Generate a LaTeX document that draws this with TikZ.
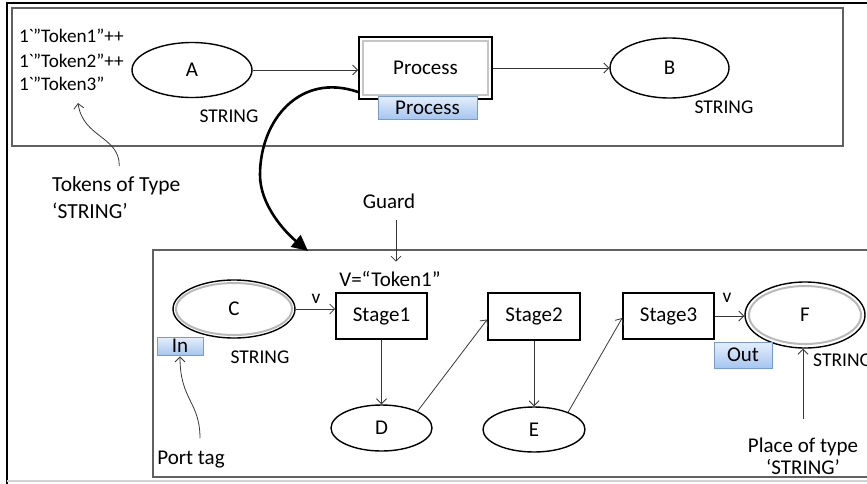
\documentclass[tikz,border=0pt]{standalone}
\usepackage{fontspec}
\setmainfont{Carlito}
\usetikzlibrary{arrows.meta,shapes.geometric}

\definecolor{arcgray}{RGB}{55,55,55}
\definecolor{tagedge}{RGB}{120,156,206}
\definecolor{tagtop}{RGB}{230,239,252}
\definecolor{tagbot}{RGB}{165,198,240}

\tikzset{
  txt/.style={font=\fontsize{21}{25}\selectfont, inner sep=0pt},
  smalltxt/.style={font=\fontsize{19.5}{23}\selectfont, inner sep=0pt},
  tokentxt/.style={font=\fontsize{19.2}{23}\selectfont, inner sep=0pt},
  frame/.style={draw=black!62, line width=1.3pt},
  place/.style={ellipse, draw=black, line width=1.4pt, inner sep=0pt,
                font=\fontsize{21}{25}\selectfont},
  ring/.style={draw=gray!55, line width=2pt},
  trans/.style={rectangle, draw=black, line width=1.6pt, inner sep=0pt,
                font=\fontsize{21}{25}\selectfont},
  tag/.style={rectangle, draw=tagedge, line width=0.8pt, inner sep=0pt,
              top color=tagtop, bottom color=tagbot,
              font=\fontsize{21}{25}\selectfont},
  arc/.style={draw=arcgray, line width=0.8pt,
              -{Straight Barb[length=5pt,width=10pt]}},
  bigarc/.style={draw=black, line width=2.6pt,
                 -{Triangle[length=16pt,width=15pt]}}
}

\begin{document}
\begin{tikzpicture}[x=1pt,y=-1pt]
\useasboundingbox (0,0) rectangle (867,483);

% outer page frame
\draw[line width=2pt] (7,484) -- (7,3) -- (870,3);
\draw[gray!35, line width=1.2pt] (7,481) -- (870,481);

% top level net and the expanded subnet
\draw[frame] (12,8) rectangle (843,146);
\draw[frame] (153,250) rectangle (880,477);

% ---------- top level net ----------
\node[tokentxt, anchor=base west] (t1) at (19,42.5) {1\kern-0.5pt\textasciigrave\kern-1pt”Token1”++};
\node[tokentxt, anchor=base west] (t2) at (19,67) {1\kern-0.5pt\textasciigrave\kern-1pt”Token2”++};
\node[tokentxt, anchor=base west] (t3) at (19,90.5) {1\kern-0.5pt\textasciigrave\kern-1pt”Token3”};

\node[place, minimum width=120pt, minimum height=55pt] (A) at (192,70) {A};
\node[smalltxt, anchor=base] (sA) at (229,122) {STRING};

\node[trans, line width=1.8pt, minimum width=133pt, minimum height=62pt] (P) at (425.5,68) {Process};
\draw[gray!45, line width=1.4pt] ([shift={(5,5)}]P.north west) rectangle ([shift={(-5,-5)}]P.south east);
\node[tag, minimum width=99pt, minimum height=23pt] (Ptag) at (427.5,107.5) {Process};

\node[place, minimum width=119pt, minimum height=60pt] (B) at (669.5,68) {B};
\node[smalltxt, anchor=base] (sB) at (724,113) {STRING};

\draw[arc] (A.east) -- (A.east -| P.west);
\draw[arc] (P.east) -- (P.east -| B.west);

% token annotation
\node[txt, font=\fontsize{21.5}{25}\selectfont, anchor=base west] (tok1) at (52,191) {Tokens of Type};
\node[txt, font=\fontsize{21.5}{25}\selectfont, anchor=base west] (tok2) at (52,218) {‘STRING’};
\coordinate (tokTip) at (78,103);
\draw[arc] ([xshift=3pt,yshift=10pt]tok1.north) .. controls +(0,-30) and +(5,35) .. (tokTip);

% expansion of the substitution transition
\coordinate (subIn) at (308,251);
\draw[bigarc] ([yshift=-24pt]P.west) .. controls (300,72) and (260,120) .. (260,175)
  .. controls (260,205) and (285,232) .. (subIn);

% ---------- subnet ----------
\node[txt, anchor=base] (guard) at (389,208) {Guard};
\node[txt, anchor=base] (vg) at (390,286) {V=“Token1”};
\draw[arc, shorten <=12pt, shorten >=9pt] ([xshift=7pt]guard.south) -- ([xshift=7pt]guard.south |- vg.north);

\node[place, minimum width=122pt, minimum height=58pt] (C) at (234,309) {C};
\draw[ring] (C.center) ellipse [x radius=58, y radius=26];
\node[smalltxt, anchor=base] (sC) at (260,363) {STRING};
\node[tag, minimum width=46pt, minimum height=18pt] (Intag) at (180,346) {In};

\node[trans, minimum width=91pt, minimum height=46pt] (S1) at (381.5,316) {Stage1};
\node[smalltxt, anchor=base] (v1) at (316,303.5) {v};
\draw[arc] (C.east) -- (C.east -| S1.west);

\node[place, minimum width=101pt, minimum height=46pt] (D) at (381.5,428) {D};
\draw[arc] (S1.south) -- (D.north);

\node[trans, minimum width=92pt, minimum height=47pt] (S2) at (534,316.5) {Stage2};
\draw[arc] (D.25) -- ([yshift=-3pt]S2.west);

\node[place, minimum width=102pt, minimum height=45pt] (E) at (534,429.5) {E};
\draw[arc] (S2.south) -- (E.north);

\node[trans, minimum width=91pt, minimum height=46pt] (S3) at (668.5,316) {Stage3};
\draw[arc] (E.27) -- ([yshift=-2pt]S3.west);

\node[place, minimum width=120pt, minimum height=66pt] (F) at (805,315) {F};
\draw[ring] (F.center) ellipse [x radius=56, y radius=29];
\node[smalltxt, anchor=base] (v2) at (727,302) {v};
\draw[arc] (S3.east) -- (S3.east -| F.west);
\node[tag, minimum width=58pt, minimum height=26pt] (Outtag) at (743,355) {Out};
\node[smalltxt, anchor=base west] (sF) at (813,366) {STRING};

% port tag annotation
\node[txt, anchor=base] (port) at (191,464) {Port tag};
\draw[arc, shorten >=1pt] ([xshift=9pt,yshift=12pt]port.north) .. controls +(0,-37) and +(0,45) .. (Intag.south);

% place type annotation
\node[txt, anchor=base] (pl1) at (803,452) {Place of type};
\node[txt, anchor=base] (pl2) at (803,474) {‘STRING’};
\draw[arc, shorten <=18pt] (pl1.north) -- (pl1.north |- F.south);
\end{tikzpicture}
\end{document}
